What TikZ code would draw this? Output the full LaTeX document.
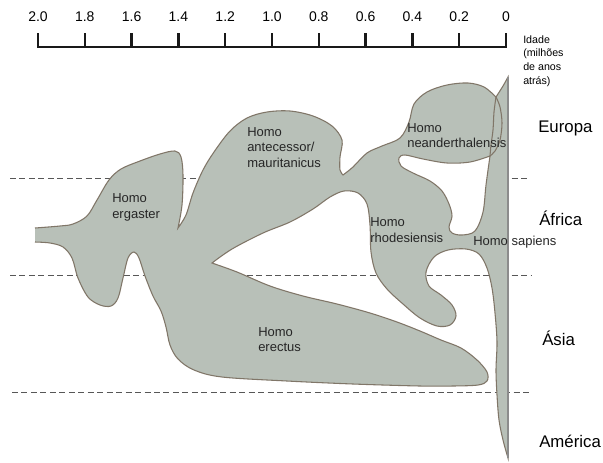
\documentclass[tikz,border=0pt]{standalone}
\usepackage{fontspec}
\setmainfont{Liberation Sans}
\begin{document}
\begin{tikzpicture}[x=0.75pt,y=-0.75pt]
\definecolor{shapefill}{RGB}{184,192,184}
\definecolor{shapeline}{RGB}{128,118,104}
\tikzset{
  species/.style={anchor=west, align=left, inner sep=0pt, font=\fontsize{9.75}{11.6}\selectfont, text=black!85},
  region/.style={anchor=west, inner sep=0pt, font=\fontsize{12.6}{15}\selectfont},
  axislabel/.style={inner sep=0pt, font=\fontsize{10.5}{12}\selectfont},
  agelabel/.style={anchor=west, align=left, inner sep=0pt, font=\fontsize{8}{10.2}\selectfont},
  regionline/.style={dash pattern=on 4.5pt off 2.6pt, draw=black!66, line width=0.75pt},
  outline/.style={draw=shapeline, line width=0.8pt},
  axisline/.style={line width=1.9pt, draw=black!90},
}
\newcommand{\mainpath}{%
  plot[smooth,tension=0.55] coordinates {(35,228) (60,226) (73,224) (87,216) (97,200) (109,180) (121,169) (140,161) (160,154) (175,151) (181,157) (183,175) (182,205) (178,228)}
  -- plot[smooth,tension=0.55] coordinates {(178,228) (186,215) (193,193) (203,170) (214,152) (230,131) (247,118) (267,112) (290,111) (313,116) (332,126) (342,140) (340,157) (340,170) (343,175)}
  -- plot[smooth,tension=0.55] coordinates {(343,175) (353,167) (367,153) (382,146) (400,138) (409,122) (414,104) (427,92) (447,85) (468,83) (484,87) (496,97)}
  -- plot[smooth,tension=0.55] coordinates {(496,97) (503,86) (508,77)}
  -- (508,458)
  -- plot[smooth,tension=0.55] coordinates {(508,458) (503,440) (499,420) (497,395) (496,370) (497,342) (495,313) (492,288) (487,268) (479,254) (466,249) (448,250) (434,257) (426,272) (429,286) (441,295) (452,305) (456,316) (450,325) (437,326) (420,318) (403,304) (387,289) (376,273) (371,252) (370,225) (367,204) (358,193) (344,191) (330,197) (313,209) (290,222) (263,233) (232,249) (212,263)}
  -- plot[smooth,tension=0.55] coordinates {(212,263) (237,272) (270,286) (303,296) (337,304) (370,313) (397,322) (420,331) (441,340) (461,348) (477,360) (487,372) (487,381) (478,385) (453,386) (420,386) (353,384) (287,381) (222,377) (194,370) (178,359) (170,345) (166,327) (161,311) (153,296) (145,276) (139,258) (134,252) (128,258) (123,278) (118,298) (111,306) (100,305) (88,297) (78,278) (72,258) (63,247) (50,243) (35,242)}}

\useasboundingbox (0,0) rectangle (603,462);
\fill[white] (0,0) rectangle (603,462);

% axis
\draw[axisline] (38,47) -- (506,47);
\foreach \i/\lab in {0/2.0,1/1.8,2/1.6,3/1.4,4/1.2,5/1.0,6/0.8,7/0.6,8/0.4,9/0.2,10/0} {
  \draw[axisline] ({38+46.8*\i},33) -- ({38+46.8*\i},47.9);
  \node[axislabel] at ({38+46.8*\i},17) {\lab};
}
\node[agelabel] (idade) at (523,61) {Idade\\(milhões\\de anos\\atrás)};

% region separators
\draw[regionline] (10,178) -- (527,178);
\draw[regionline] (10,275) -- (532,275);
\draw[regionline] (12,392) -- (532,392);

% shapes
\fill[shapefill] \mainpath -- cycle;
\draw[outline] \mainpath;
\filldraw[fill=white, outline] plot[smooth,tension=0.55] coordinates {(490,156) (470,162) (447,163) (423,159) (405,155) (399,158) (401,166) (413,173) (430,181) (442,191) (449,204) (452,216) (449,227) (452,233) (462,235) (475,231) (483,212) (486,185) (490,156)} -- cycle;
\draw[outline] plot[smooth,tension=0.55] coordinates {(496,97) (494,112) (493,130) (491,145) (490,156)};
\draw[outline] plot[smooth,tension=0.55] coordinates {(496,97) (500,107) (502,123) (500,140) (495,151) (490,156)};
\draw[draw=black!45, line width=1.2pt] (508,77) -- (508,458);

% species labels
\node[species] (ergaster) at (112,207.5) {Homo\\ergaster};
\node[species] (antecessor) at (247,147.5) {Homo\\antecessor/\\mauritanicus};
\node[species] (neander) at (407,135.5) {Homo\\neanderthalensis};
\node[species] (rhodes) at (370,230) {Homo\\rhodesiensis};
\node[species] (sapiens) at (473,242) {Homo sapiens};
\node[species] (erectus) at (258,339.5) {Homo\\erectus};

% regions
\node[region] (europa) at (538,128) {Europa};
\node[region] (africa) at (539,218) {África};
\node[region] (asia) at (542,338) {Ásia};
\node[region] (america) at (539,441) {América};
\end{tikzpicture}
\end{document}
